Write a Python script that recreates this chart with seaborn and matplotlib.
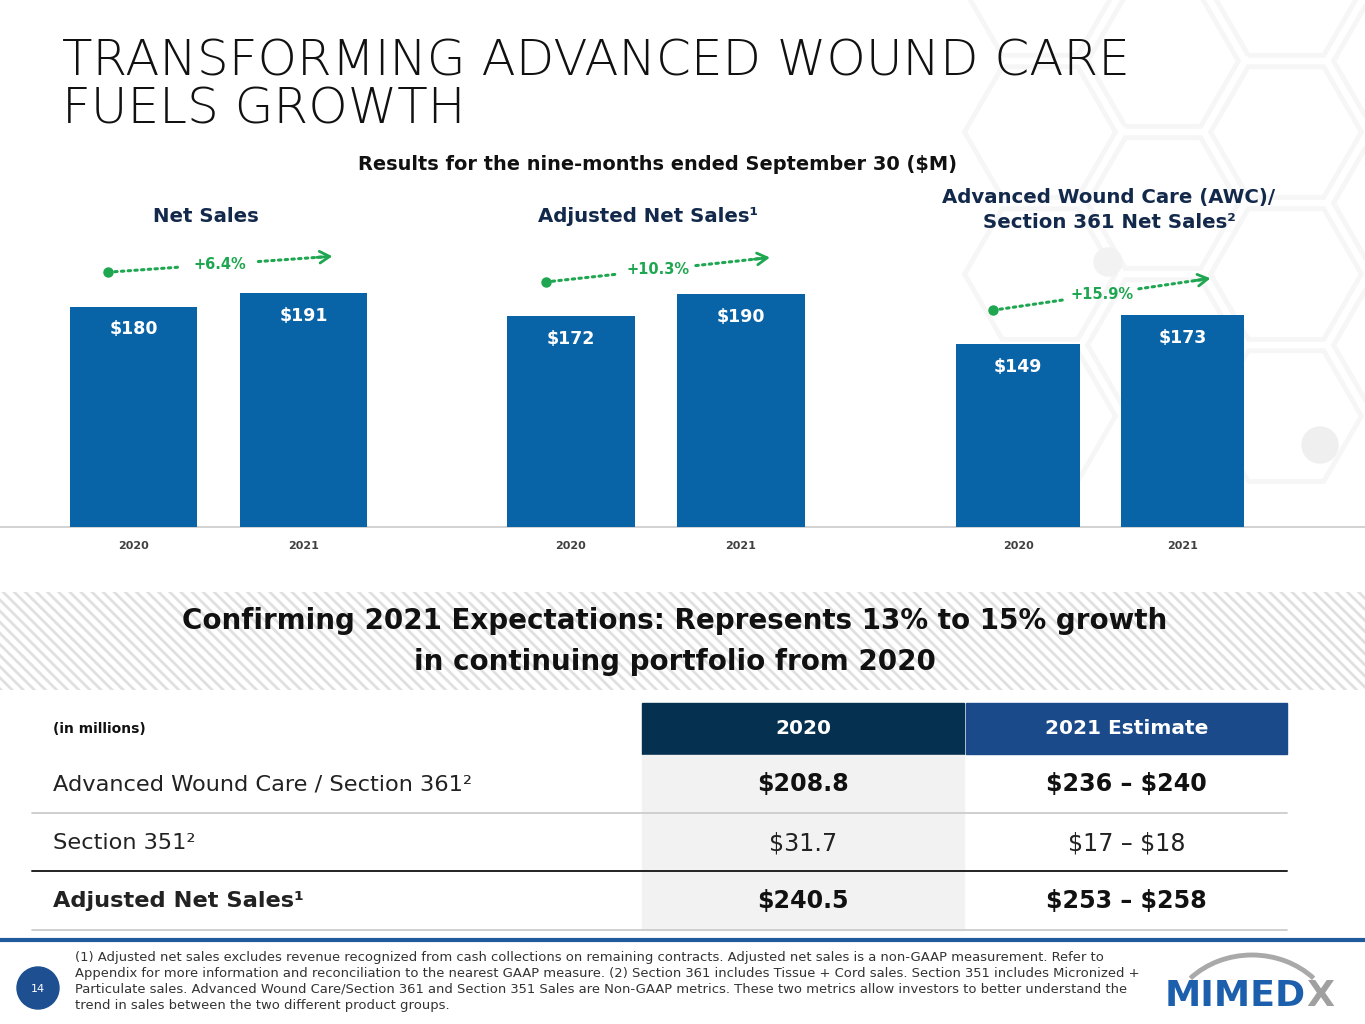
import numpy as np
import pandas as pd
import matplotlib
matplotlib.use("Agg")
import matplotlib.pyplot as plt
import seaborn as sns
from matplotlib.patches import Rectangle, Circle, Arc, RegularPolygon

# ---------------- data ----------------
years = ["2020", "2021"]
net_sales = [180, 191]
adj_net_sales = [172, 190]
awc_sales = [149, 173]
group_titles = ["Net Sales", "Adjusted Net Sales¹",
                "Advanced Wound Care (AWC)/\nSection 361 Net Sales²"]
growth_labels = ["+6.4%", "+10.3%", "+15.9%"]

table_header = ["2020", "2021 Estimate"]
table_rows = ["Advanced Wound Care / Section 361²", "Section 351²", "Adjusted Net Sales¹"]
table_2020 = ["$208.8", "$31.7", "$240.5"]
table_2021 = ["$236 – $240", "$17 – $18", "$253 – $258"]
row_bold = [True, False, True]

title_lines = ["TRANSFORMING ADVANCED WOUND CARE", "FUELS GROWTH"]
subtitle = "Results for the nine-months ended September 30 ($M)"
band_lines = ["Confirming 2021 Expectations: Represents 13% to 15% growth",
              "in continuing portfolio from 2020"]
footnote_lines = [
    "(1) Adjusted net sales excludes revenue recognized from cash collections on remaining contracts. Adjusted net sales is a non-GAAP measurement. Refer to",
    "Appendix for more information and reconciliation to the nearest GAAP measure. (2) Section 361 includes Tissue + Cord sales. Section 351 includes Micronized +",
    "Particulate sales. Advanced Wound Care/Section 361 and Section 351 Sales are Non-GAAP metrics. These two metrics allow investors to better understand the",
    "trend in sales between the two different product groups.",
]
page_number = "14"

# ---------------- style ----------------
sns.set_theme(style="white")
plt.rcParams["font.family"] = ["DejaVu Sans"]
plt.rcParams["hatch.linewidth"] = 2.0
plt.rcParams["text.parse_math"] = False

W, H = 1365, 1024
BAR = "#0864a6"
GREEN = "#1ea650"
NAVY = "#13294b"
fig = plt.figure(figsize=(W / 100, H / 100), dpi=100)
fig.patch.set_facecolor("white")
renderer = fig.canvas.get_renderer()

bg = fig.add_axes([0, 0, 1, 1])
bg.set_xlim(0, W)
bg.set_ylim(H, 0)
bg.axis("off")
bg.set_zorder(0)


def fit(t, width_px):
    bb = t.get_window_extent(renderer=renderer)
    t.set_fontsize(t.get_fontsize() * width_px / bb.width)
    return t


def btext(x, y, s, **kw):
    kw.setdefault("clip_on", False)
    kw.setdefault("parse_math", False)
    return bg.text(x, y, s, **kw)


# ---- faint honeycomb background (top right) ----
r = 82
for ci in range(-1, 5):
    for ri in range(-1, 5):
        cx = 1040 + ci * 1.5 * r
        cy = -10 + ri * np.sqrt(3) * r + (np.sqrt(3) / 2 * r if ci % 2 else 0)
        if cy > 480 or cx < 1000:
            continue
        bg.add_patch(RegularPolygon((cx, cy), 6, radius=r * 0.92, orientation=np.pi / 6,
                                    facecolor="none", edgecolor="#f6f6f6", lw=3.5, zorder=0))
bg.add_patch(Circle((1320, 445), 18, color="#efefef", zorder=0.5))
bg.add_patch(Circle((1108, 262), 14, color="#f2f2f2", zorder=0.5))

# ---- title ----
t1 = btext(62, 76, title_lines[0], fontsize=34, fontweight="light", color="#111111", va="baseline")
fit(t1, 1070)
t2 = btext(62, 124, title_lines[1], fontsize=t1.get_fontsize(), fontweight="light",
           color="#111111", va="baseline")

# ---- subtitle ----
st = btext(658, 164, subtitle, fontsize=13, fontweight="bold", color="#111111",
           ha="center", va="center")
fit(st, 597)

# ---- baseline ----
bg.plot([0, W], [527, 527], color="#cfcfcf", lw=1.3, zorder=1)

# ---- bar groups ----
SCALE = 1.225
YMAX = 250
top_px = 527 - YMAX * SCALE
group_specs = [
    (net_sales, 48.5, 388.5, 206, 217),
    (adj_net_sales, 486, 826, 648, 217),
    (awc_sales, 935.75, 1264.75, 1109, 210),
]
for gi, (vals, x0, x1, tx, ty) in enumerate(group_specs):
    ax = fig.add_axes([x0 / W, 1 - 527 / H, (x1 - x0) / W, (527 - top_px) / H])
    ax.set_zorder(2)
    ax.patch.set_alpha(0)
    df = pd.DataFrame({"year": years, "value": vals})
    sns.barplot(data=df, x="year", y="value", ax=ax, color=BAR, saturation=1,
                width=0.75, edgecolor="none", linewidth=0)
    ax.set_ylim(0, YMAX)
    ax.set_xlim(-0.5, 1.5)
    ax.set_yticks([])
    ax.set_xlabel("")
    ax.set_ylabel("")
    sns.despine(ax=ax, left=True, bottom=True)
    ax.tick_params(axis="x", length=0, pad=10, labelsize=8, labelcolor="#404040")
    for lab in ax.get_xticklabels():
        lab.set_fontweight("bold")
    for p, v in zip(ax.patches, vals):
        ax.annotate(f"${v}", (p.get_x() + p.get_width() / 2, p.get_height()),
                    xytext=(0, -16.5), textcoords="offset points", ha="center",
                    va="center", color="white", fontweight="bold", fontsize=12.5)
    # growth arrow
    xs, xe = -0.15, 1.17
    ys, ye = vals[0] + 28, vals[1] + 30
    def at(t):
        return xs + (xe - xs) * t, ys + (ye - ys) * t
    a0, a1 = at(0.0), at(0.32)
    b0, b1 = at(0.67), at(0.97)
    for (p0, p1) in [(a0, a1), (b0, b1)]:
        ax.plot([p0[0], p1[0]], [p0[1], p1[1]], color=GREEN, lw=2.2,
                ls=(0, (0.8, 1.4)), dash_capstyle="round", clip_on=False)
    ax.plot([xs], [ys], "o", ms=6.5, color=GREEN, clip_on=False)
    ax.annotate("", xy=(xe, ye), xytext=at(0.93),
                arrowprops=dict(arrowstyle="->,head_length=0.6,head_width=0.35",
                                color=GREEN, lw=2.0, shrinkA=0, shrinkB=0),
                annotation_clip=False)
    mx, my = at(0.5)
    ax.text(mx, my, growth_labels[gi], ha="center", va="center", color=GREEN,
            fontweight="bold", fontsize=10.5, clip_on=False)
    # group title
    btext(tx, ty, group_titles[gi], ha="center", va="center", color=NAVY,
          fontweight="bold", fontsize=14.2, linespacing=1.42)

# ---- striped band ----
bg.add_patch(Rectangle((0, 592), W, 98, facecolor="white", edgecolor="#e0e0e0",
                       hatch="\\\\\\", lw=0, zorder=1))
bt1 = btext(675, 621, band_lines[0], ha="center", va="center", fontweight="bold",
            color="#111111", fontsize=20, zorder=3)
fit(bt1, 986)
btext(675, 662, band_lines[1], ha="center", va="center", fontweight="bold",
      color="#111111", fontsize=bt1.get_fontsize(), zorder=3)

# ---- table ----
C1L, C1R, C2L, C2R = 642, 964, 966, 1287
bg.add_patch(Rectangle((C1L, 703), C1R - C1L, 51, color="#05304f", zorder=1))
bg.add_patch(Rectangle((C2L, 703), C2R - C2L, 51, color="#1b4a8a", zorder=1))
bg.add_patch(Rectangle((C1L, 755), C1R - C1L, 175, color="#f2f2f2", zorder=1))
h1 = btext((C1L + C1R) / 2, 729, table_header[0], ha="center", va="center",
           color="white", fontweight="bold", fontsize=13, zorder=3)
h2 = btext((C2L + C2R) / 2, 729, table_header[1], ha="center", va="center",
           color="white", fontweight="bold", fontsize=13, zorder=3)
fit(h2, 162)
h1.set_fontsize(h2.get_fontsize())
im = btext(53, 729, "(in millions)", va="center", fontweight="bold",
           color="#111111", fontsize=8.5, zorder=3)
fit(im, 93)

row_y = [784, 843, 901]
lab_size = None
val_size = None
for i, (lab, v0, v1, b) in enumerate(zip(table_rows, table_2020, table_2021, row_bold)):
    tl = btext(53, row_y[i], lab, va="center", color="#222222",
               fontweight="bold" if (i == 2) else "normal", fontsize=15, zorder=3)
    if i == 0:
        fit(tl, 419)
        lab_size = tl.get_fontsize()
    else:
        tl.set_fontsize(lab_size)
    wv = "bold" if b else "normal"
    vc = "#111111" if b else "#222222"
    tv0 = btext((C1L + C1R) / 2, row_y[i], v0, ha="center", va="center",
                color=vc, fontweight=wv, fontsize=17, zorder=3)
    tv1 = btext((C2L + C2R) / 2, row_y[i], v1, ha="center", va="center",
                color=vc, fontweight=wv, fontsize=17, zorder=3)
    if i == 0:
        fit(tv1, 161)
        val_size = tv1.get_fontsize()
    tv0.set_fontsize(val_size)
    tv1.set_fontsize(val_size)

bg.plot([32, C2R], [813, 813], color="#cccccc", lw=1.3, zorder=2)
bg.plot([32, C2R], [871, 871], color="#222222", lw=1.4, zorder=2)
bg.plot([32, C2R], [930, 930], color="#cccccc", lw=1.3, zorder=2)

# ---- footer ----
bg.plot([0, W], [940, 940], color="#1f5b9c", lw=3, zorder=2, solid_capstyle="butt")
bg.add_patch(Circle((38, 988), 21, color="#1d4f91", zorder=2))
btext(38, 989, page_number, ha="center", va="center", color="white", fontsize=8, zorder=3)
fsize = None
for i, line in enumerate(footnote_lines):
    ft = btext(75, 957 + 16 * i, line, va="center", color="#333333", fontsize=9, zorder=3)
    if i == 0:
        fit(ft, 1026)
        fsize = ft.get_fontsize()
    else:
        ft.set_fontsize(fsize)

# logo
lg = btext(1165, 1006, "MIMED", va="baseline", ha="left", color="#1c5fad",
           fontweight="bold", fontsize=28, zorder=3)
fit(lg, 141)
bb = lg.get_window_extent(renderer=renderer)
btext(bb.x1, 1006, "X", va="baseline", ha="left", color="#a0a0a0",
      fontweight="bold", fontsize=lg.get_fontsize(), zorder=3)
bg.add_patch(Arc((1252, 1030), 170, 150, theta1=220, theta2=320, color="#a9a9a9",
                 lw=3.5, zorder=3))

fig.savefig("out.png", dpi=100, facecolor="white")
